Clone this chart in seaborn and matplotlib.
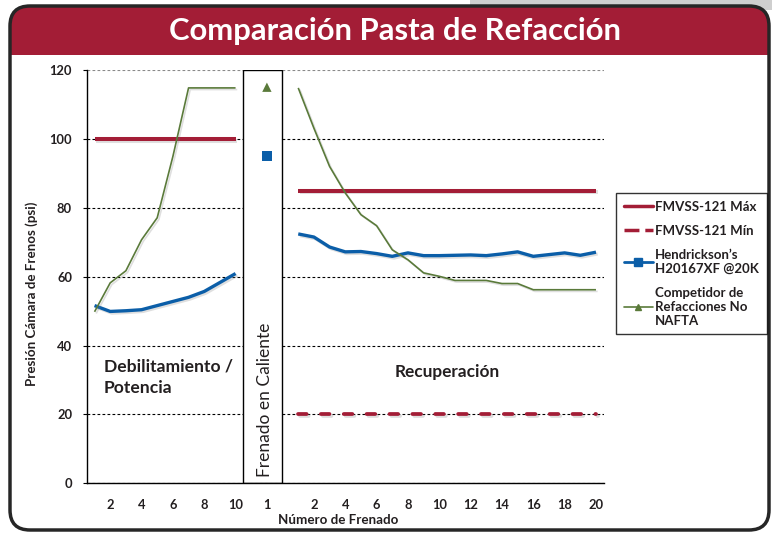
import numpy as np
import pandas as pd
import seaborn as sns
import matplotlib.pyplot as plt
import matplotlib.patheffects as pe
from matplotlib.patches import FancyBboxPatch, Rectangle
from matplotlib.lines import Line2D
from matplotlib.transforms import IdentityTransform

# --- data ---
weak_x = [1, 2, 3, 4, 5, 6, 7, 8, 9, 10]
weak_blue = [51.6, 49.9, 50.1, 50.4, 51.6, 52.8, 54.0, 55.7, 58.3, 60.9]
weak_green = [49.8, 58.2, 61.7, 70.7, 77.1, 94.9, 114.8, 114.8, 114.8, 114.8]
weak_max = [100] * 10

hot_x = [12]
hot_blue = [95]
hot_green = [115]

rec_x = list(range(14, 34))
rec_blue = [72.4, 71.5, 68.6, 67.2, 67.3, 66.7, 65.9, 66.9, 66.1, 66.1,
            66.2, 66.3, 66.1, 66.6, 67.2, 65.9, 66.4, 66.9, 66.2, 67.1]
rec_green = [114.8, 103.1, 92.0, 84.3, 78.0, 74.8, 67.8, 64.9, 61.1, 60.1,
             58.9, 58.9, 58.9, 58.0, 58.0, 56.2, 56.2, 56.2, 56.2, 56.2]
rec_max = [85] * 20
rec_min = [20] * 20

tick_pos = [2, 4, 6, 8, 10, 12, 15, 17, 19, 21, 23, 25, 27, 29, 31, 33]
tick_labels = ['2', '4', '6', '8', '10', '1', '2', '4', '6', '8', '10',
               '12', '14', '16', '18', '20']
y_ticks = [0, 20, 40, 60, 80, 100, 120]

legend_labels = ['FMVSS-121 Máx', 'FMVSS-121 Mín',
                 'Hendrickson’s\nH20167XF @20K',
                 'Competidor de\nRefacciones No\nNAFTA']

RED = '#A31D36'
BLUE = '#0B5EA8'
GREEN = '#5A7A3A'
DARK = '#231F20'

sns.set_style('white')
plt.rcParams['font.family'] = ['Lato', 'DejaVu Sans']

W, H = 772, 535
fig = plt.figure(figsize=(W / 100, H / 100), dpi=100)

# frame + red header (pixel coordinates)
fig.add_artist(Rectangle((470, 525), 302, 10, transform=IdentityTransform(),
                         facecolor='#cfcfcf', edgecolor='none', zorder=-11))
frame = FancyBboxPatch((10, 5), 759, 524, boxstyle='round,pad=0,rounding_size=20',
                       transform=IdentityTransform(), facecolor='white',
                       edgecolor='none', zorder=-10)
fig.add_artist(frame)
header = Rectangle((0, 480), W, 60, transform=IdentityTransform(),
                   facecolor=RED, edgecolor='none', zorder=-9)
fig.add_artist(header)
header.set_clip_path(frame)
fig.add_artist(FancyBboxPatch((10, 5), 759, 524, boxstyle='round,pad=0,rounding_size=20',
                              transform=IdentityTransform(), facecolor='none',
                              edgecolor='#262626', lw=2.5, zorder=-8))

fig.text(395 / W, 1 - 31 / H, 'Comparación Pasta de Refacción', ha='center', va='center',
         color='white', fontweight='bold', fontsize=22.3)

ax = fig.add_axes([86.7 / W, (H - 483.3) / H, (603.8 - 86.7) / W, (483.3 - 70) / H])
ax.set_facecolor('none')

shadow = [pe.SimpleLineShadow(offset=(1.2, -1.2), shadow_color='gray', alpha=0.25), pe.Normal()]

def draw(x, y, color, lw, z=3):
    sns.lineplot(x=x, y=y, ax=ax, color=color, linewidth=lw, zorder=z)
    line = ax.lines[-1]
    line.set_path_effects(shadow)
    line.set_solid_capstyle('butt')
    return line

draw(weak_x, weak_max, RED, 2.9)
draw(rec_x, rec_max, RED, 2.9)
mn = draw(rec_x, rec_min, RED, 2.7)
mn.set_linestyle((0, (2.3, 3.8)))
mn.set_dash_capstyle('round')
draw(weak_x, weak_blue, BLUE, 2.4, 4)
draw(rec_x, rec_blue, BLUE, 2.4, 4)
draw(weak_x, weak_green, GREEN, 1.2, 5)
draw(rec_x, rec_green, GREEN, 1.2, 5)

sns.scatterplot(x=hot_x, y=hot_green, ax=ax, marker='^', color=GREEN, s=45,
                edgecolor='none', zorder=6)
sns.scatterplot(x=hot_x, y=hot_blue, ax=ax, marker='s', color=BLUE, s=55,
                edgecolor='none', zorder=6)

# hot-braking box
ax.add_patch(Rectangle((10.5, 0), 2.45, 120, facecolor='white', edgecolor='black',
                       lw=1.0, zorder=1.5))
ax.text(11.85, 1.8, 'Frenado en Caliente', rotation=90, ha='center', va='bottom',
        fontsize=12.5, color=DARK, zorder=7)
ax.text(1.6, 36.3, 'Debilitamiento /\nPotencia', ha='left', va='top', fontsize=12.6,
        fontweight='bold', color=DARK, linespacing=1.45)
ax.text(23.5, 32.4, 'Recuperación', ha='center', va='center', fontsize=12.4,
        fontweight='bold', color=DARK)

ax.set_xlim(0.5, 33.5)
ax.set_ylim(0, 120)
ax.set_yticks(y_ticks)
ax.set_yticklabels([str(v) for v in y_ticks], fontweight='bold', fontsize=9.3, color=DARK)
ax.set_xticks(tick_pos)
ax.set_xticklabels(tick_labels, fontweight='bold', fontsize=9.3, color=DARK)
ax.set_xticks(np.arange(0.5, 34, 1), minor=True)
ax.tick_params(axis='x', which='major', length=0, pad=11)
ax.tick_params(axis='x', which='minor', length=3.6, width=0.8, direction='out', color='black')
ax.tick_params(axis='y', length=3, width=0.8, direction='out', pad=7.5, color='black', left=True)
ax.set_xlabel('')
ax.set_ylabel('')

ax.set_axisbelow(True)
ax.yaxis.grid(True, color='black', linestyle=(0, (2.5, 2)), linewidth=0.8)
ax.get_ygridlines()[-1].set_color('#8a8a8a')
for s in ['top', 'right']:
    ax.spines[s].set_visible(False)
for s in ['left', 'bottom']:
    ax.spines[s].set_color('black')
    ax.spines[s].set_linewidth(1.0)

fig.text(32 / W, 1 - 294 / H, 'Presión Cámara de Frenos (psi)', rotation=90, ha='center',
         va='center', fontsize=9.6, fontweight='bold', color=DARK)
fig.text(338 / W, 1 - 520 / H, 'Número de Frenado', ha='center', va='center',
         fontsize=9.6, fontweight='bold', color=DARK)

handles = [
    Line2D([], [], color=RED, lw=2.5),
    Line2D([], [], color=RED, lw=2.5, linestyle=(0, (4.3, 1.7))),
    Line2D([], [], color=BLUE, lw=2.0, marker='s', markersize=6),
    Line2D([], [], color=GREEN, lw=1.2, marker='^', markersize=5),
]
leg = fig.legend(handles, legend_labels, loc='upper left',
                 bbox_to_anchor=(616 / W, 1 - 193 / H), frameon=True, fancybox=False,
                 edgecolor='black', handlelength=2.2, handletextpad=0.15,
                 borderpad=0.6, labelspacing=0.9, borderaxespad=0,
                 prop={'weight': 'bold', 'size': 9.5})
leg.get_frame().set_linewidth(1.0)
for t in leg.get_texts():
    t.set_color(DARK)

fig.savefig('out.png', dpi=100)
